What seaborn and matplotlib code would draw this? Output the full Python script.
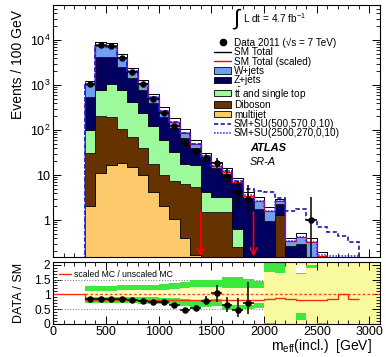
import numpy as np
import pandas as pd
import matplotlib
matplotlib.use("Agg")
import matplotlib.pyplot as plt
import seaborn as sns
from matplotlib.lines import Line2D
from matplotlib.patches import Patch
from matplotlib.ticker import MultipleLocator, FuncFormatter, LogLocator, NullFormatter

# ---------------- data ----------------
bin_edges = list(range(300, 3000, 100))          # 300 ... 2900 GeV, 26 bins
processes = ["W+jets", "Z+jets", r"t$\bar{\mathrm{t}}$ and single top", "Diboson", "multijet"]
proc_colors = ["#6f9ff2", "#00005e", "#9cf99c", "#663300", "#fdca6b"]

wjets    = [445, 3130, 2840, 1430, 610, 260, 130, 78, 42, 19, 9, 2.4, 1.5, 1.3, 0.6, 0.5,
            0.8, 0.62, 0.31, 0.07, 0.13, 0.32, 0.16, 0.05, 0.05, 0.033]
zjets    = [440, 3480, 3180, 1780, 970, 540, 280, 130, 77, 48, 23, 18.9, 11.3, 7.3, 5.9, 3.0,
            1.8, 0.96, 0.97, 0.27, 0.29, 0, 0, 0, 0, 0]
ttbar    = [68, 570, 877, 665, 360, 200, 102, 50, 25.5, 11.8, 11.5, 2.6, 1.7, 1.7, 0.38, 0,
            0, 0, 0, 0, 0, 0, 0, 0, 0, 0]
diboson  = [29.6, 189, 176, 86.5, 55, 30, 13.7, 8.0, 6.45, 5.8, 5.3, 1.5, 1.5, 1.5, 0.25, 0,
            0, 0, 1.3, 0, 0, 0, 0, 0, 0, 0]
multijet = [2.0, 10.9, 17, 18.5, 15, 10, 4.1, 2.0, 1.05, 0.39, 0.17, 0, 0, 0, 0, 0,
            0, 0, 0, 0, 0, 0, 0, 0, 0, 0]
sm_total = [1200, 9000, 8650, 4850, 2450, 1270, 645, 327, 185, 104, 60, 31, 19.5, 14.4, 8.7, 4.3,
            3.2, 1.9, 2.9, 0.40, 0.52, 0.40, 0.19, 0.06, 0.05, 0.04]
su_500_570 = [990, 7400, 7100, 3990, 2020, 1045, 533, 270, 153, 86, 49.5, 25.8, 16.2, 12, 7.3, 5.0,
              4.5, 4.1, 3.1, 1.6, 1.8, 1.0, 0.7, 0.55, 0.45, 0.33]
su_2500_270 = [990, 7400, 7100, 3990, 2020, 1045, 533, 270, 153, 86, 49.5, 25.8, 16.2, 12, 7.2, 3.6,
               2.65, 1.6, 2.6, 0.35, 0.43, 0.33, 0.17, 0.155, 0.155, 0.155]

data_x = [350, 450, 550, 650, 750, 850, 950, 1050, 1150, 1250, 1350, 1450, 1550, 1650, 1750, 1850, 2450]
data_y = [1050, 7750, 7400, 3950, 1980, 1030, 480, 240, 125, 52, 34, 24, 18.7, 9.1, 4.1, 3.0, 1.0]
data_err_up = [33, 90, 86, 63, 45, 32, 22, 16, 11, 7.5, 6.2, 6.0, 5.5, 4.2, 3.2, 2.9, 2.3]
data_err_dn = [32, 88, 86, 63, 44, 32, 22, 15, 11, 7.0, 5.8, 5.0, 4.3, 3.0, 2.0, 1.6, 0.9]

cut_values = [1400, 1900]

ratio_x = [350, 450, 550, 650, 750, 850, 950, 1050, 1150, 1250, 1350, 1450, 1550, 1650, 1750, 1850]
ratio_y = [0.85, 0.85, 0.84, 0.83, 0.80, 0.78, 0.74, 0.73, 0.64, 0.48, 0.55, 0.78, 1.03, 0.63, 0.47, 0.72]
ratio_err_up = [0.03, 0.02, 0.02, 0.02, 0.02, 0.03, 0.04, 0.05, 0.06, 0.07, 0.10, 0.15, 0.28, 0.29, 0.40, 0.71]
ratio_err_dn = [0.03, 0.02, 0.02, 0.02, 0.02, 0.03, 0.04, 0.05, 0.06, 0.07, 0.10, 0.15, 0.28, 0.22, 0.22, 0.39]

# scaled / unscaled MC ratio: first entry is 0-300 GeV, then the 26 bins
scaled_edges = [0] + bin_edges
scaled_ratio = [1.0, 0.82, 0.82, 0.82, 0.82, 0.82, 0.82, 0.82, 0.82, 0.82, 0.82, 0.82, 0.82, 0.82, 0.82,
                0.82, 0.82, 0.82, 0.83, 0.89, 0.84, 0.81, 0.80, 0.82, 0.83, 1.0, 0.83]

# uncertainty band, bins 300-2000
band_edges = bin_edges[:18]
green_hi = [1.28, 1.28, 1.28, 1.31, 1.31, 1.32, 1.33, 1.35, 1.38, 1.42, 1.48, 1.50, 1.50, 1.58, 1.58, 1.52, 1.45]
yel_hi   = [1.11, 1.11, 1.11, 1.13, 1.13, 1.13, 1.14, 1.16, 1.18, 1.20, 1.24, 1.25, 1.25, 1.22, 1.22, 1.20, 1.20]
yel_lo   = [0.92, 0.92, 0.92, 0.91, 0.91, 0.91, 0.90, 0.89, 0.86, 0.84, 0.80, 0.80, 0.85, 0.65, 0.65, 0.65, 0.70]
green_lo = [0.71, 0.71, 0.71, 0.70, 0.70, 0.69, 0.68, 0.66, 0.63, 0.60, 0.58, 0.58, 0.62, 0.47, 0.47, 0.50, 0.55]

# tail bins 2000-2900
tail_edges = bin_edges[17:]
nan = np.nan
tail_up_lo = [1.75, 1.72, nan, 1.68, 1.90, nan, nan, nan, nan]
tail_up_hi = [2.10, 2.10, nan, 1.72, 2.00, nan, nan, nan, nan]
tail_dn_lo = [0.0, nan, nan, 0.12, nan, 0.0, nan, nan, nan]
tail_dn_hi = [0.05, nan, nan, 0.37, nan, 0.05, nan, nan, nan]
tail_white_lo = [nan, nan, nan, 1.72, nan, nan, nan, nan, nan]
tail_white_hi = [nan, nan, nan, 2.00, nan, nan, nan, nan, nan]
no_data_from = 2000

# ---------------- style ----------------
sns.set_theme(style="ticks", rc={"axes.edgecolor": "black", "text.color": "black",
                                 "xtick.color": "black", "ytick.color": "black",
                                 "axes.labelcolor": "black"})
plt.rcParams['font.family'] = ['Liberation Sans', 'DejaVu Sans']
plt.rcParams['mathtext.fontset'] = 'custom'
plt.rcParams['mathtext.rm'] = 'Liberation Sans'
plt.rcParams['mathtext.it'] = 'Liberation Sans:italic'
plt.rcParams['mathtext.bf'] = 'Liberation Sans:bold'
plt.rcParams['axes.linewidth'] = 0.8

W, H = 386, 357
fig = plt.figure(figsize=(W / 100, H / 100), dpi=100)


def rect(l, t, r, b):
    return [l / W, 1 - b / H, (r - l) / W, (b - t) / H]


ax = fig.add_axes(rect(53.3, 4.7, 380, 256.7))
rax = fig.add_axes(rect(53.3, 261.7, 380, 324))

# ---------------- main panel ----------------
centers = [e + 50 for e in bin_edges[:-1]]
nb = len(centers)
df = pd.DataFrame({
    "meff": np.tile(centers, len(processes)),
    "process": np.repeat(processes, nb),
    "events": np.concatenate([wjets, zjets, ttbar, diboson, multijet]),
})
sns.histplot(data=df, x="meff", weights="events", hue="process", hue_order=processes,
             multiple="stack", bins=bin_edges, element="step", fill=True,
             palette=dict(zip(processes, proc_colors)), alpha=1, edgecolor="black",
             linewidth=0.5, legend=False, ax=ax)
ax.set_yscale("log")

stack_top = np.sum([wjets, zjets, ttbar, diboson, multijet], axis=0)
ax.bar(bin_edges[:-1], np.array(sm_total) - stack_top, bottom=stack_top, width=100,
       align="edge", facecolor="white", edgecolor="#555555", linewidth=0.7, zorder=3)
ax.stairs(sm_total, bin_edges, color="black", lw=0.7, baseline=None, zorder=4)
ax.stairs(stack_top, bin_edges, color="red", lw=0.9, baseline=None, zorder=4)
ax.stairs(su_500_570, bin_edges, color="#1a1aa0", ls=(0, (2.5, 1.5)), lw=1.2, baseline=1e-3, zorder=5)
ax.stairs(su_2500_270, bin_edges, color="#2222ff", ls=(0, (1, 1)), lw=1.1, baseline=1e-3, zorder=5)

ax.errorbar(data_x, data_y, yerr=[data_err_dn, data_err_up], xerr=50, fmt="none",
            ecolor="black", elinewidth=1.1, capsize=0, zorder=6)
sns.scatterplot(x=data_x, y=data_y, color="black", s=22, edgecolor="black", linewidth=0, zorder=7, ax=ax)

for c in cut_values:
    ax.annotate("", xy=(c, 0.155), xytext=(c, 1.5),
                arrowprops=dict(arrowstyle="->", color="red", lw=1.2, mutation_scale=12,
                                shrinkA=0, shrinkB=0), zorder=8)

ax.set_xlim(0, 3100)
ax.set_ylim(0.153, 6.1e4)


def logfmt(v, pos):
    if abs(v - 1) < 1e-9:
        return "1"
    if abs(v - 10) < 1e-9:
        return "10"
    return r"$\mathregular{10^{%d}}$" % int(round(np.log10(v)))


ax.yaxis.set_major_locator(LogLocator(base=10, numticks=12))
ax.yaxis.set_minor_locator(LogLocator(base=10, subs=np.arange(2, 10) * 1.0, numticks=40))
ax.yaxis.set_minor_formatter(NullFormatter())
ax.yaxis.set_major_formatter(FuncFormatter(logfmt))
ax.set_xlabel("")
ax.set_ylabel("")

# legend
handles = [
    Line2D([], [], marker="o", color="black", ls="none", ms=4.5),
    Line2D([], [], color="black", lw=1.0),
    Line2D([], [], color="red", lw=1.0),
] + [Patch(facecolor=c, edgecolor="black", lw=0.6) for c in proc_colors] + [
    Line2D([], [], color="#1a1aa0", ls=(0, (2.5, 1.5)), lw=1.2),
    Line2D([], [], color="#2222ff", ls=(0, (1, 1)), lw=1.1),
]
labels = ["Data 2011 (\u221as = 7 TeV)", "SM Total", "SM Total (scaled)"] + processes + \
         ["SM+SU(500,570,0,10)", "SM+SU(2500,270,0,10)"]
ax.legend(handles, labels, loc="upper left", bbox_to_anchor=(214 / W, 1 - 37.5 / H),
          bbox_transform=fig.transFigure, frameon=False, fontsize=7.2, labelspacing=-0.06,
          handlelength=1.7, handleheight=0.6, handletextpad=0.3, borderaxespad=0, borderpad=0)

ax.text(0.562, 0.940, r"$\int$", transform=ax.transAxes, fontsize=16, ha="center", va="center")
ax.text(0.581, 0.947, r"L dt = 4.7 fb$^{\mathregular{-1}}$", transform=ax.transAxes,
        fontsize=7.2, ha="left", va="center")
ax.text(0.602, 0.431, "ATLAS", transform=ax.transAxes, fontsize=8, fontweight="bold",
        fontstyle="italic", ha="left", va="center")
ax.text(0.602, 0.376, "SR-A", transform=ax.transAxes, fontsize=7.8, fontstyle="italic",
        ha="left", va="center")

# ---------------- ratio panel ----------------
rax.axvspan(no_data_from, 3100, color="#f9f9a0", lw=0, zorder=0)
rax.hlines([0.5, 1.5], 0, no_data_from, colors="#888888", linestyles=(0, (1, 1.5)), lw=0.8, zorder=1)
rax.bar(band_edges[:-1], np.array(green_hi) - np.array(green_lo), bottom=green_lo, width=100,
        align="edge", color="#3de83d", lw=0, zorder=2)
rax.bar(band_edges[:-1], np.array(yel_hi) - np.array(yel_lo), bottom=yel_lo, width=100,
        align="edge", color="#ffffc0", lw=0, zorder=2)
rax.bar(tail_edges[:-1], np.array(tail_up_hi) - np.array(tail_up_lo), bottom=tail_up_lo, width=100,
        align="edge", color="#3de83d", lw=0, zorder=2)
rax.bar(tail_edges[:-1], np.array(tail_dn_hi) - np.array(tail_dn_lo), bottom=tail_dn_lo, width=100,
        align="edge", color="#3de83d", lw=0, zorder=2)
rax.bar(tail_edges[:-1], np.array(tail_white_hi) - np.array(tail_white_lo), bottom=tail_white_lo,
        width=100, align="edge", color="white", lw=0, zorder=2)
rax.plot([300, 3100], [1, 1], color="#ff4a1a", ls=(0, (2, 1.5)), lw=1.0, zorder=3)
rax.stairs(scaled_ratio, scaled_edges, color="#ff2a10", lw=1.0, baseline=None, zorder=4)
rax.errorbar(ratio_x, ratio_y, yerr=[ratio_err_dn, ratio_err_up], xerr=50, fmt="none",
             ecolor="black", elinewidth=1.1, capsize=0, zorder=5)
sns.scatterplot(x=ratio_x, y=ratio_y, color="black", s=22, linewidth=0, zorder=6, ax=rax)

rax.legend([Line2D([], [], color="#ff2a10", lw=1.0)], ["scaled MC / unscaled MC"],
           loc="center left", bbox_to_anchor=(59 / W, 1 - 274.3 / H), bbox_transform=fig.transFigure,
           frameon=False, fontsize=6.2, handlelength=1.4, handletextpad=0.4, borderpad=0,
           borderaxespad=0)

rax.set_xlim(0, 3100)
rax.set_ylim(0, 2.1)
rax.yaxis.set_major_locator(MultipleLocator(0.5))
rax.yaxis.set_minor_locator(MultipleLocator(0.1))
rax.yaxis.set_major_formatter(FuncFormatter(lambda v, p: "%g" % v))

for a in (ax, rax):
    a.xaxis.set_major_locator(MultipleLocator(500))
    a.xaxis.set_minor_locator(MultipleLocator(100))
    a.tick_params(which="both", direction="in", top=True, right=True, labelsize=9, pad=2)
    a.tick_params(which="major", length=6, width=0.7)
    a.tick_params(which="minor", length=3.2, width=0.6)
    for s in a.spines.values():
        s.set_linewidth(0.8)
        s.set_color("black")
        s.set_zorder(10)
ax.tick_params(labelbottom=False)
rax.tick_params(axis="x", pad=1.5)
rax.tick_params(axis="y", labelsize=8.6)

fig.text(18.5 / W, 1 - 10 / H, "Events / 100 GeV", rotation=90, ha="center", va="top", fontsize=10)
fig.text(18.5 / W, 1 - 292.5 / H, "DATA / SM", rotation=90, ha="center", va="center", fontsize=9)
fig.text(372 / W, 1 - 346 / H, r"m$_{\mathregular{eff}}$(incl.)  [GeV]", ha="right", va="center",
         fontsize=10)

fig.savefig("out.png", dpi=100)
